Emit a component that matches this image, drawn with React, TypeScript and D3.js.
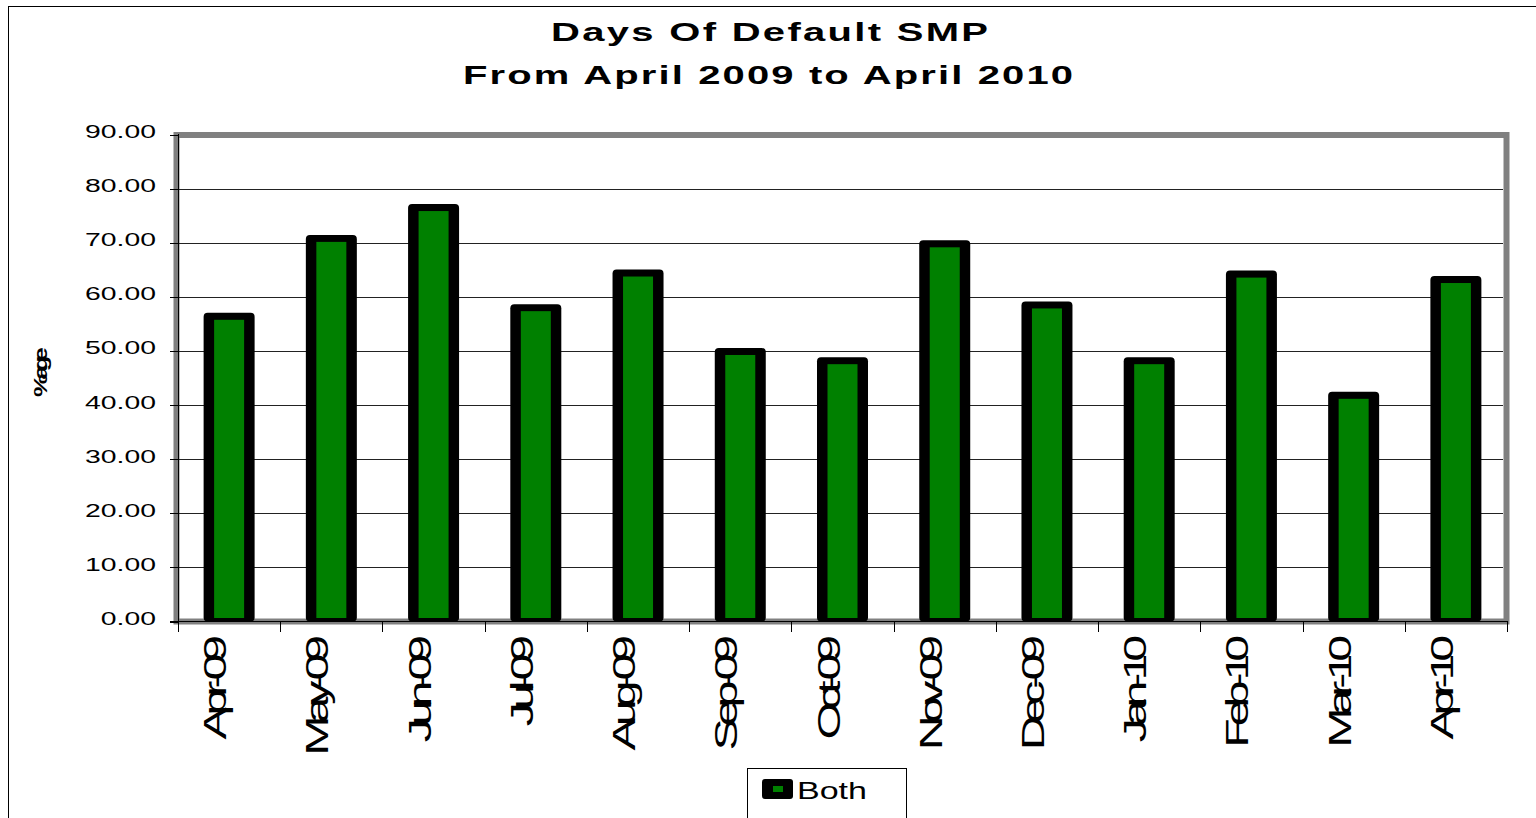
import * as d3 from "d3";

const months = ["Apr-09", "May-09", "Jun-09", "Jul-09", "Aug-09", "Sep-09", "Oct-09", "Nov-09", "Dec-09", "Jan-10", "Feb-10", "Mar-10", "Apr-10"];
const bothValues = [56.4, 70.8, 76.5, 58.0, 64.4, 49.9, 48.2, 69.8, 58.5, 48.2, 64.2, 41.8, 63.2];
const yTickValues = [0, 10, 20, 30, 40, 50, 60, 70, 80, 90];
const titleLines = ["Days Of Default SMP", "From April 2009 to April 2010"];
const seriesName = "Both";
const yAxisLabel = "%age";

const font = "'Liberation Sans', Arial, sans-serif";

export default function App() {
  const width = 1536;
  const height = 818;

  const x = d3.scaleBand<string>().domain(months).range([178, 1507]);
  const y = d3.scaleLinear().domain([0, 90]).range([621.5, 134.5]);
  const bw = x.bandwidth();

  // band boundaries for the x ticks
  const xTickPos = months.map(m => x(m) as number).concat([x.range()[1]]);

  return (
    <svg width={width} height={height} style={{ position: "absolute", left: 0, top: 0, background: "#fff" }}>
      {/* chart frame */}
      <rect x={8.5} y={6.5} width={1540} height={830} fill="#fff" stroke="#000" strokeWidth={1} />

      {/* title */}
      <text transform="translate(769.5,41) scale(1.6,1)" textAnchor="middle" fontFamily={font}
        fontWeight="bold" fontSize={25} textLength={437 / 1.6} lengthAdjust="spacing">{titleLines[0]}</text>
      <text transform="translate(768,84) scale(1.6,1)" textAnchor="middle" fontFamily={font}
        fontWeight="bold" fontSize={25} textLength={610 / 1.6} lengthAdjust="spacing">{titleLines[1]}</text>

      {/* plot area border */}
      <rect x={176.5} y={135} width={1330} height={486.5} fill="#fff" stroke="#808080" strokeWidth={6} />

      {/* gridlines */}
      {yTickValues.filter(v => v > 0 && v < 90).map(v => (
        <line key={v} x1={179} x2={1503} y1={Math.round(y(v)) + 0.5} y2={Math.round(y(v)) + 0.5} stroke="#222" strokeWidth={1} />
      ))}

      {/* bars */}
      {bothValues.map((v, i) => {
        const cx = (x(months[i]) as number) + bw / 2;
        const top = y(v);
        return (
          <g key={months[i]}>
            <rect x={cx - 25.5} y={top - 3.5} width={51} height={621.5 - (top - 3.5)} rx={4} fill="#000" />
            <rect x={cx - 15} y={top + 3.5} width={30} height={618 - (top + 3.5)} fill="#008000" />
          </g>
        );
      })}

      {/* axes */}
      <line x1={178.5} x2={178.5} y1={134} y2={632} stroke="#000" strokeWidth={1} />
      <line x1={170} x2={1507} y1={621.5} y2={621.5} stroke="#000" strokeWidth={1} />
      {yTickValues.map(v => (
        <g key={v}>
          <line x1={170} x2={178} y1={Math.round(y(v)) + 0.5} y2={Math.round(y(v)) + 0.5} stroke="#000" strokeWidth={1} />
          <text transform={`translate(156,${y(v) + 3.5}) scale(1.62,1)`} textAnchor="end" fontFamily={font}
            fontSize={17.5} fill="#000">{v.toFixed(2)}</text>
        </g>
      ))}
      {xTickPos.map((p, i) => (
        <line key={i} x1={Math.round(p) + 0.5} x2={Math.round(p) + 0.5} y1={621} y2={632} stroke="#000" strokeWidth={1} />
      ))}
      {months.map(m => (
        <text key={m} transform={`translate(${(x(m) as number) + bw / 2 - 3},643) rotate(-90) scale(2.25,1.5)`}
          textAnchor="end" fontFamily={font} fontSize={21.5} letterSpacing={-3.6} fill="#000">{m}</text>
      ))}

      {/* y axis title */}
      <text transform="translate(47,375) rotate(-90) scale(2,1.4)" textAnchor="middle" fontFamily={font}
        fontWeight="bold" fontSize={13} letterSpacing={-3} fill="#000">{yAxisLabel}</text>

      {/* legend */}
      <rect x={747.5} y={768.5} width={159} height={70} fill="#fff" stroke="#000" strokeWidth={1} />
      <rect x={762} y={779} width={31} height={20} rx={3} fill="#000" />
      <rect x={773} y={786} width={10} height={6} fill="#008000" />
      <text transform="translate(797,799) scale(1.48,1)" fontFamily={font} fontSize={23} fill="#000">{seriesName}</text>
    </svg>
  );
}
